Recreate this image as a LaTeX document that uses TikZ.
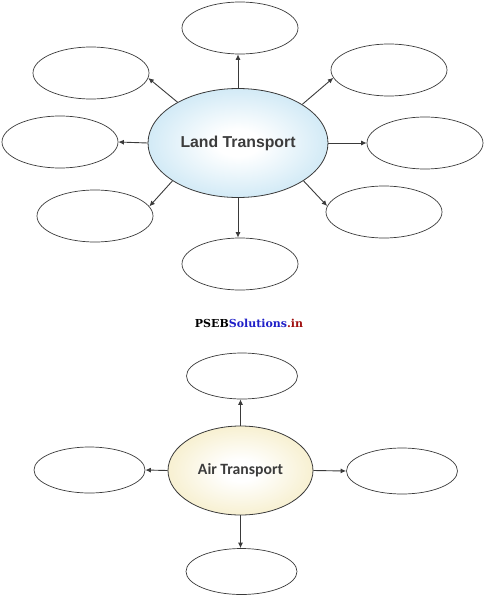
\documentclass[tikz,border=0pt]{standalone}
\usepackage{fontspec}
\setmainfont{Liberation Sans}
\newfontfamily\landfont{Liberation Sans}
\newfontfamily\airfont{Carlito}
\newfontfamily\wmfont{DejaVu Serif}
\usetikzlibrary{shapes.geometric,arrows.meta}
\definecolor{linegray}{HTML}{3A3A3A}
\definecolor{textgray}{HTML}{3C3C3C}
\definecolor{landblue}{HTML}{B4DCF0}
\definecolor{airyellow}{HTML}{F2E6B2}
\definecolor{wmblue}{HTML}{1F1FC8}
\definecolor{wmred}{HTML}{A01010}
\pgfdeclareradialshading{landshade}{\pgfpoint{0bp}{0bp}}{color(0bp)=(white); color(6bp)=(white); color(30bp)=(landblue!75!white); color(50bp)=(landblue)}
\pgfdeclareradialshading{airshade}{\pgfpoint{0bp}{0bp}}{color(0bp)=(white); color(6bp)=(white); color(30bp)=(airyellow!75!white); color(50bp)=(airyellow)}
\tikzset{
  blank/.style={ellipse, draw=linegray, line width=0.7pt, inner sep=0pt, fill=white},
  bigland/.style={blank, minimum width=116pt, minimum height=52pt},
  bigair/.style={blank, minimum width=111pt, minimum height=46pt},
  hub/.style={ellipse, draw=linegray, line width=0.8pt, inner sep=0pt, text=textgray},
  link/.style={draw=linegray, line width=0.9pt, -{Latex[length=5.5pt,width=5pt]}}
}
\begin{document}
\begin{tikzpicture}[x=1pt,y=-1pt]
\useasboundingbox (0,0) rectangle (487,597);
% Land transport
\node[hub, minimum width=180pt, minimum height=109pt, shading=landshade,
      font=\landfont\bfseries\fontsize{15.8}{18}\selectfont] (land) at (238,143) {Land Transport};
\node[bigland] (lt)  at (240,28)  {};
\node[bigland] (lul) at (91,73)   {};
\node[bigland] (ll)  at (60,142)  {};
\node[bigland] (lll) at (95,216)  {};
\node[bigland] (lb)  at (240,264) {};
\node[bigland] (lur) at (389,70)  {};
\node[bigland] (lr)  at (425,143) {};
\node[bigland] (llr) at (384,212) {};
\draw[link] (land.north) -- (land.north |- lt.south);
\draw[link] (land.146) -- (lul.-5);
\draw[link] (land.west) -- (ll.east);
\draw[link] (land.210) -- (lll.10);
\draw[link] (land.south) -- (land.south |- lb.north);
\draw[link] (land.31) -- (lur.188);
\draw[link] (land.east) -- (lr.west);
\draw[link] (land.-30) -- (llr.174);
% watermark
\node[font=\wmfont\bfseries\fontsize{11}{13}\selectfont, inner sep=0pt] (wm) at (249,323)
  {PSEB\textcolor{wmblue}{Solutions}\textcolor{wmred}{.in}};
% Air transport
\node[hub, minimum width=145pt, minimum height=89pt, shading=airshade,
      font=\airfont\bfseries\fontsize{15.7}{18}\selectfont] (air) at (240.5,470.5) {Air Transport};
\node[bigair] (at) at (242,376)   {};
\node[bigair] (al) at (89.5,470)  {};
\node[bigair] (ar) at (402,471)   {};
\node[bigair] (ab) at (241.5,571.5) {};
\draw[link] (air.north) -- (air.north |- at.south);
\draw[link] (air.west) -- (al.east);
\draw[link] (air.east) -- (ar.west);
\draw[link] (air.south) -- (air.south |- ab.north);
\end{tikzpicture}
\end{document}
